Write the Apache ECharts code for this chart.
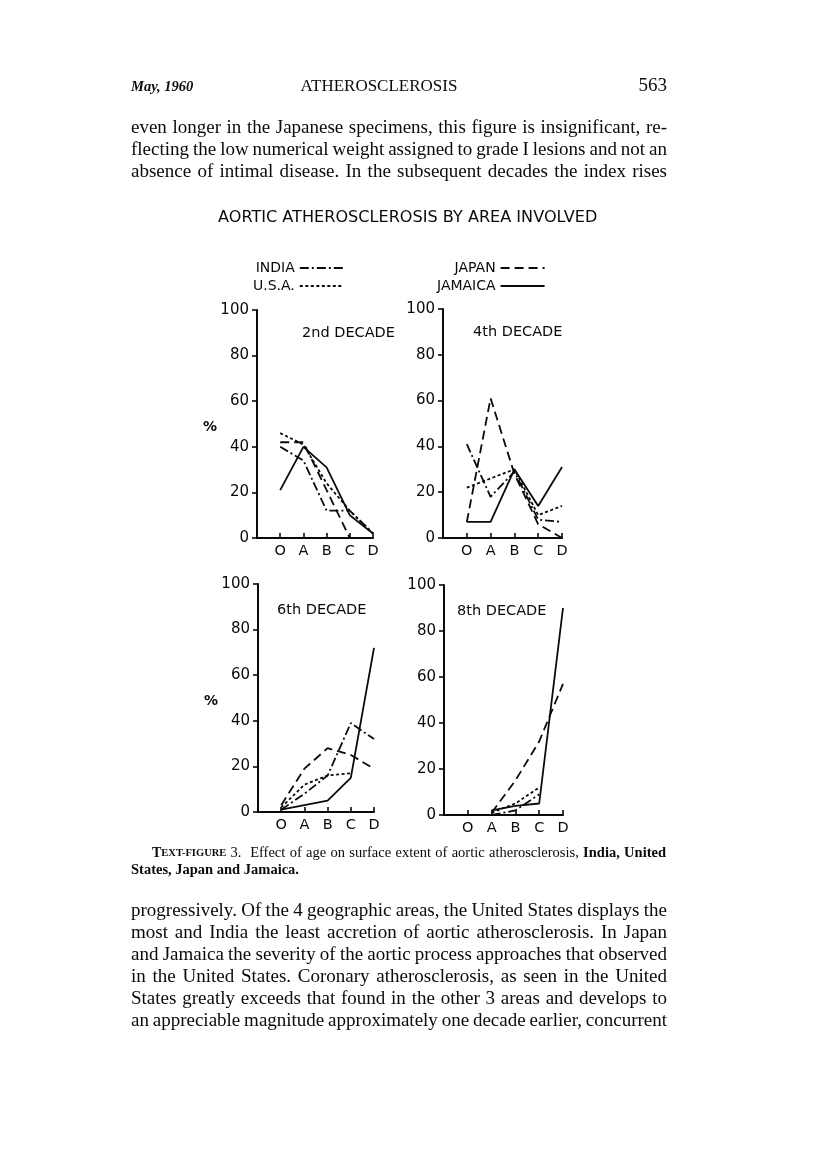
<!DOCTYPE html>
<html>
<head>
<meta charset="utf-8">
<script src="https://cdn.jsdelivr.net/npm/echarts@6/dist/echarts.min.js"></script>
<style>
html,body{margin:0;padding:0;background:#fff;}
#page{width:816px;height:1175px;}
</style>
</head>
<body>
<div id="page"></div>
<script>
// ---------------- data ----------------
const categories = ['O', 'A', 'B', 'C', 'D'];
const yTicks = [0, 20, 40, 60, 80, 100];
const countries = ['INDIA', 'U.S.A.', 'JAPAN', 'JAMAICA'];
const panelTitles = ['2nd DECADE', '4th DECADE', '6th DECADE', '8th DECADE'];

// 2nd decade (% of aortic area involved, by grade O..D)
const india2   = [40, 34, 12, 12, 2];
const usa2     = [46, 41, 24, 12, 2];
const japan2   = [42, 42, 21, 0, null];
const jamaica2 = [21, 40, 31, 10, 2];
// 4th decade
const india4   = [41, 18, 29, 8, 7];
const usa4     = [22, 26, 30, 10, 14];
const japan4   = [7, 61, 28, 6, 0];
const jamaica4 = [7, 7, 30, 14, 31];
// 6th decade
const india6   = [1, 8, 16, 39, 32];
const usa6     = [2, 12, 16, 17, null];
const japan6   = [3, 19, 28, 25, 19];
const jamaica6 = [1, 3, 5, 15, 72];
// 8th decade
const india8   = [null, 0, 2, 9, null];
const usa8     = [null, 1, 5, 12, null];
const japan8   = [null, 1, 15, 32, 57];
const jamaica8 = [null, 2, 4, 5, 90];

const panelData = [
  [india2, usa2, japan2, jamaica2],
  [india4, usa4, japan4, jamaica4],
  [india6, usa6, japan6, jamaica6],
  [india8, usa8, japan8, jamaica8]
];

// ---------------- page text ----------------
const headerLeft = 'May, 1960';
const headerCenter = 'ATHEROSCLEROSIS';
const headerRight = '563';
const chartTitle = 'AORTIC ATHEROSCLEROSIS BY AREA INVOLVED';
const topLines = [
  'even longer in the Japanese specimens, this figure is insignificant, re-',
  'flecting the low numerical weight assigned to grade I lesions and not an',
  'absence of intimal disease. In the subsequent decades the index rises'
];
const bottomLines = [
  'progressively. Of the 4 geographic areas, the United States displays the',
  'most and India the least accretion of aortic atherosclerosis. In Japan',
  'and Jamaica the severity of the aortic process approaches that observed',
  'in the United States. Coronary atherosclerosis, as seen in the United',
  'States greatly exceeds that found in the other 3 areas and develops to',
  'an appreciable magnitude approximately one decade earlier, concurrent'
];
const captionLine1 = 'Effect of age on surface extent of aortic atherosclerosis, India, United';
const captionLine2 = 'States, Japan and Jamaica.';

// ---------------- styles ----------------
const INK = '#0a0a0a';
const SANS = 'DejaVu Sans';
const SERIF = 'Liberation Serif';
const dashTypes = {
  'INDIA': [9, 3, 2, 3],
  'U.S.A.': [3, 2.5],
  'JAPAN': [9, 5],
  'JAMAICA': 'solid'
};
const grids = [
  {left: 257, top: 310, width: 116, height: 228},
  {left: 443, top: 309, width: 119, height: 229},
  {left: 258, top: 584, width: 116, height: 228},
  {left: 444, top: 585, width: 119, height: 230}
];
const titlePos = [
  {x: 302, y: 326}, {x: 473, y: 325}, {x: 277, y: 603}, {x: 457, y: 604}
];

// ---------------- text layout helper ----------------
const mctx = document.createElement('canvas').getContext('2d');
function fontStr(s) {
  return (s.fontStyle || 'normal') + ' ' + (s.fontWeight || 'normal') + ' ' + s.fontSize + 'px ' + s.fontFamily;
}
function measure(text, s) { mctx.font = fontStr(s); return mctx.measureText(text).width; }
function placeLine(tokens, x0, x1, y, justify, out) {
  const widths = tokens.map(tok => tok.reduce((w, p) => w + measure(p.text, p.style), 0));
  const total = widths.reduce((a, b) => a + b, 0);
  const spaceW = measure(' ', tokens[0][0].style);
  const gap = (justify && tokens.length > 1) ? (x1 - x0 - total) / (tokens.length - 1) : spaceW;
  let x = x0;
  tokens.forEach((tok, i) => {
    let px = x;
    tok.forEach(p => {
      out.push({
        type: 'text', x: px, y: y, silent: true,
        style: Object.assign({text: p.text, fill: INK, align: 'left', verticalAlign: 'middle'}, p.style)
      });
      px += measure(p.text, p.style);
    });
    x += widths[i] + gap;
  });
}
function simpleTokens(line, style) {
  return line.split(' ').map(w => [{text: w, style: style}]);
}

const bodyStyle = {fontSize: 19, fontFamily: SERIF};
const capStyle = {fontSize: 14.5, fontFamily: SERIF};
const capBold = {fontSize: 14.5, fontFamily: SERIF, fontWeight: 'bold'};
const graphics = [];

// header
graphics.push({type: 'text', x: 131, y: 87, silent: true,
  style: {text: headerLeft, fontSize: 14.5, fontFamily: SERIF, fontStyle: 'italic', fontWeight: 'bold', fill: INK, verticalAlign: 'middle'}});
graphics.push({type: 'text', x: 379, y: 87, silent: true,
  style: {text: headerCenter, fontSize: 17, fontFamily: SERIF, fill: INK, align: 'center', verticalAlign: 'middle'}});
graphics.push({type: 'text', x: 667, y: 86, silent: true,
  style: {text: headerRight, fontSize: 19, fontFamily: SERIF, fill: INK, align: 'right', verticalAlign: 'middle'}});

// body text
topLines.forEach((l, i) => placeLine(simpleTokens(l, bodyStyle), 131, 667, 128 + i * 22, true, graphics));
bottomLines.forEach((l, i) => placeLine(simpleTokens(l, bodyStyle), 131, 667, 911 + i * 22, true, graphics));

// caption
const capTokens = [
  [{text: 'T', style: {fontSize: 14, fontFamily: SERIF, fontWeight: 'bold'}},
   {text: 'EXT-FIGURE', style: {fontSize: 10.5, fontFamily: SERIF, fontWeight: 'bold'}}],
  [{text: '3.', style: capStyle}],
  [{text: '', style: capStyle}]
].concat(captionLine1.split(' ').map((w, i, arr) => [{text: w, style: (i >= arr.length - 2 ? capBold : capStyle)}]));
placeLine(capTokens, 152, 666, 853, true, graphics);
placeLine(simpleTokens(captionLine2, capBold), 131, 666, 870, false, graphics);

// percent signs
graphics.push({type: 'text', x: 210, y: 427, silent: true,
  style: {text: '%', fontSize: 14, fontWeight: 'bold', fontFamily: SANS, fill: INK, align: 'center', verticalAlign: 'middle'}});
graphics.push({type: 'text', x: 211, y: 701, silent: true,
  style: {text: '%', fontSize: 14, fontWeight: 'bold', fontFamily: SANS, fill: INK, align: 'center', verticalAlign: 'middle'}});

// ---------------- chart ----------------
const chart = echarts.init(document.getElementById('page'), null, {renderer: 'canvas', width: 816, height: 1175});

const xAxes = grids.map((g, i) => ({
  type: 'value', gridIndex: i, min: -1, max: 4, interval: 1,
  axisLine: {show: true, onZero: false, lineStyle: {color: INK, width: 2}},
  axisTick: {show: true, inside: true, length: 5, lineStyle: {color: INK, width: 1.6}},
  splitLine: {show: false},
  axisLabel: {
    margin: 6, color: INK, fontSize: 14.5, fontFamily: SANS,
    formatter: v => (v >= 0 && v < categories.length ? categories[v] : '')
  }
}));
const yAxes = grids.map((g, i) => ({
  type: 'value', gridIndex: i, min: yTicks[0], max: yTicks[yTicks.length - 1], interval: 20,
  axisLine: {show: true, onZero: false, lineStyle: {color: INK, width: 2}},
  axisTick: {show: true, length: 5, lineStyle: {color: INK, width: 1.6}},
  splitLine: {show: false},
  axisLabel: {margin: 8, color: INK, fontSize: 15, fontFamily: SANS}
}));

const series = [];
panelData.forEach((arrs, gi) => {
  arrs.forEach((arr, ci) => {
    series.push({
      name: countries[ci], type: 'line', xAxisIndex: gi, yAxisIndex: gi,
      data: arr.map((v, k) => [k, v]),
      symbol: 'none', connectNulls: false, silent: true,
      lineStyle: {color: INK, width: 1.8, type: dashTypes[countries[ci]]},
      itemStyle: {color: INK}
    });
  });
});

const titles = [{
  text: chartTitle, left: 213, top: 205,
  textStyle: {fontSize: 16.1, fontWeight: 'normal', fontFamily: SANS, color: INK}
}].concat(panelTitles.map((t, i) => ({
  text: t, left: titlePos[i].x - 5, top: titlePos[i].y - 5,
  textStyle: {fontSize: 14.5, fontWeight: 'normal', fontFamily: SANS, color: INK}
})));

const legendCommon = {
  orient: 'vertical', align: 'right', selectedMode: false,
  itemWidth: 44, itemHeight: 12, itemGap: 4,
  itemStyle: {opacity: 0},
  textStyle: {fontSize: 14, fontFamily: SANS, color: INK}
};

chart.setOption({
  animation: false,
  backgroundColor: '#ffffff',
  title: titles,
  legend: [
    Object.assign({data: ['INDIA', 'U.S.A.'], left: 248, top: 256}, legendCommon),
    Object.assign({data: ['JAPAN', 'JAMAICA'], left: 432, top: 256}, legendCommon)
  ],
  grid: grids,
  xAxis: xAxes,
  yAxis: yAxes,
  series: series,
  graphic: graphics
});
</script>
</body>
</html>
